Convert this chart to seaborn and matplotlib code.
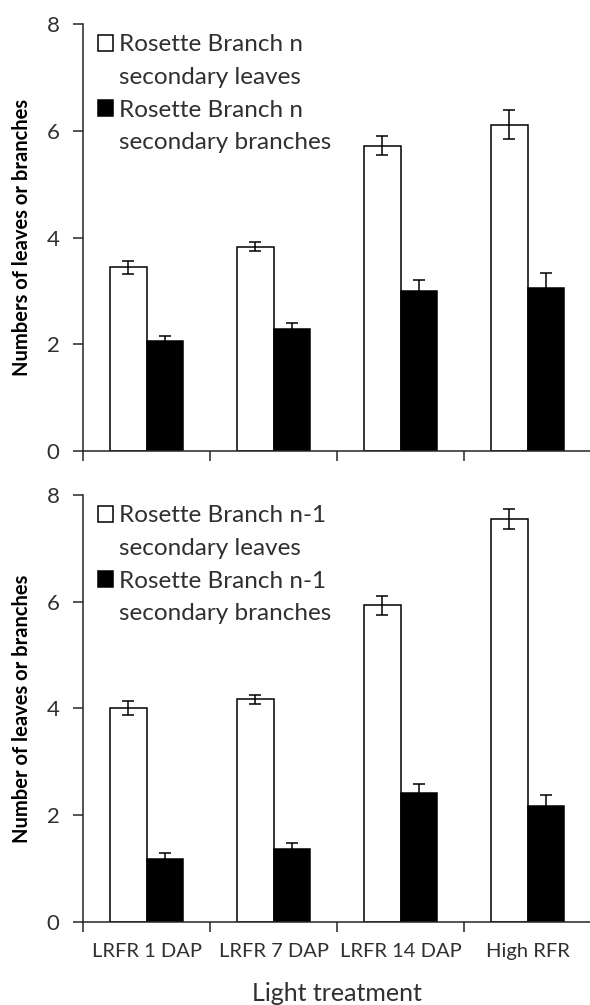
import pandas as pd
import seaborn as sns
import matplotlib.pyplot as plt
from matplotlib.patches import Patch

# values
treatments = ["LRFR 1 DAP", "LRFR 7 DAP", "LRFR 14 DAP", "High RFR"]

n_leaves = [3.44, 3.83, 5.72, 6.11]
n_leaves_se = [0.12, 0.09, 0.18, 0.27]
n_branches = [2.07, 2.28, 3.00, 3.06]
n_branches_se = [0.09, 0.12, 0.21, 0.27]

n1_leaves = [4.01, 4.17, 5.93, 7.55]
n1_leaves_se = [0.13, 0.08, 0.18, 0.18]
n1_branches = [1.18, 1.36, 2.41, 2.17]
n1_branches_se = [0.12, 0.12, 0.18, 0.21]

sns.set_style('ticks')
plt.rcParams['font.family'] = ['Lato', 'DejaVu Sans']
txt = '#303030'


def panel(ax, leaves, leaves_se, branches, branches_se, branch_name, ylabel):
    first = 'Rosette Branch ' + branch_name
    df = pd.DataFrame({
        'treatment': treatments * 2,
        'value': leaves + branches,
        'group': ['leaves'] * 4 + ['branches'] * 4,
    })
    sns.barplot(data=df, x='treatment', y='value', hue='group', ax=ax,
                palette={'leaves': 'white', 'branches': 'black'}, edgecolor='black',
                linewidth=1.1, width=0.57, gap=0, errorbar=None, saturation=1,
                legend=False)
    for cont, err in zip(ax.containers, [leaves_se, branches_se]):
        xs = [b.get_x() + b.get_width() / 2 for b in cont]
        ys = [b.get_height() for b in cont]
        ax.errorbar(xs, ys, yerr=err, fmt='none', ecolor='black',
                    elinewidth=1.1, capsize=4.5, capthick=1.1, zorder=5)

    ax.set_ylim(0, 8)
    ax.set_xlim(-0.5, 3.5)
    ax.set_yticks([0, 2, 4, 6, 8])
    ax.tick_params(axis='y', labelsize=16, length=7, width=1.1, pad=10,
                   labelcolor=txt)
    # tick marks between categories, labels under the categories
    ax.set_xticks([-0.5, 0.5, 1.5, 2.5, 3.5])
    ax.set_xticklabels([])
    ax.set_xticks(range(4), minor=True)
    ax.tick_params(axis='x', which='major', length=7, width=1.1)
    ax.tick_params(axis='x', which='minor', length=0)
    sns.despine(ax=ax)
    for s in ['left', 'bottom']:
        ax.spines[s].set_linewidth(1.1)

    ax.set_xlabel('')
    ax.set_ylabel(ylabel, fontsize=14.5, fontweight='bold', color='black')
    ax.yaxis.set_label_coords(-0.1, 0.5)

    # square sits next to the first line of each two-line label
    handles = [Patch(facecolor='white', edgecolor='black', linewidth=1.1),
               Patch(visible=False),
               Patch(facecolor='black', edgecolor='black', linewidth=1.1),
               Patch(visible=False)]
    labels = [first, 'secondary leaves', first, 'secondary branches']
    ax.legend(handles, labels, loc='upper left', bbox_to_anchor=(0.0, 1.01),
              frameon=False, fontsize=17.5, handlelength=0.62, handleheight=0.62,
              handletextpad=0.25, labelspacing=0.48, borderaxespad=0.2,
              labelcolor=txt)


fig = plt.figure(figsize=(5.9, 10.05), dpi=100)
ax1 = fig.add_axes([0.1407, 0.5512, 0.861, 0.4249])
ax2 = fig.add_axes([0.1407, 0.0826, 0.861, 0.4249])

panel(ax1, n_leaves, n_leaves_se, n_branches, n_branches_se, 'n',
      'Numbers of leaves or branches')
panel(ax2, n1_leaves, n1_leaves_se, n1_branches, n1_branches_se, 'n-1',
      'Number of leaves or branches')

ax2.set_xticklabels(treatments, minor=True, fontsize=14.5, color=txt)
ax2.tick_params(axis='x', which='minor', pad=15)
ax2.set_xlabel('Light treatment', fontsize=18, color=txt)
ax2.xaxis.set_label_coords(0.5, -0.14)

plt.savefig('out.png', dpi=100)
